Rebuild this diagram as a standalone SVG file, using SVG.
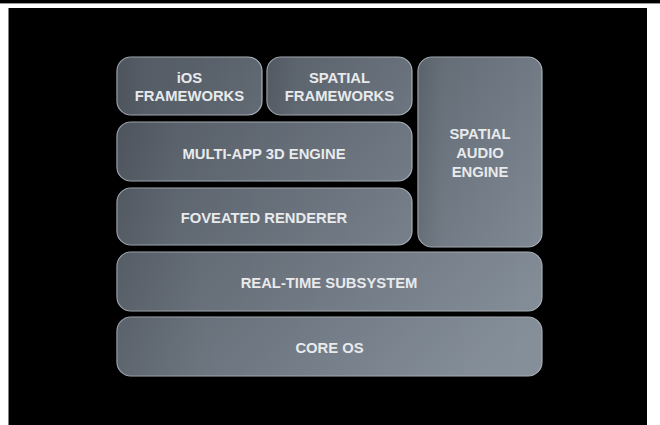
<svg xmlns="http://www.w3.org/2000/svg" width="660" height="425" viewBox="0 0 660 425">
  <defs>
    <linearGradient id="base" gradientUnits="userSpaceOnUse" x1="200" y1="57" x2="480" y2="376">
      <stop offset="0" stop-color="#5a626c"/>
      <stop offset="1" stop-color="#858f9a"/>
    </linearGradient>
    <linearGradient id="shade" x1="0" y1="0" x2="1" y2="0">
      <stop offset="0" stop-color="#000" stop-opacity="0.14"/>
      <stop offset="0.2" stop-color="#000" stop-opacity="0.05"/>
      <stop offset="1" stop-color="#000" stop-opacity="0"/>
    </linearGradient>
    <style>
      .box { fill: url(#base); stroke: #a6aeb6; stroke-width: 1.2; }
      .sh { fill: url(#shade); stroke: none; }
      .lbl { font-family: "Liberation Sans", Arial, sans-serif; font-weight: bold; font-size: 14.8px; fill: #e8eaec; text-anchor: middle; }
    </style>
  </defs>
  <rect x="0" y="0" width="660" height="425" fill="#ffffff"/>
  <rect x="0" y="0" width="660" height="3.4" fill="#000000"/>
  <rect x="8.5" y="8" width="638.5" height="417" fill="#000000"/>

  <g id="ios-frameworks">
    <rect class="box" x="117" y="57" width="145" height="58" rx="14"/>
    <rect class="sh" x="117" y="57" width="145" height="58" rx="14"/>
    <text class="lbl" x="189.5" y="82.5">iOS</text>
    <text class="lbl" x="189.5" y="101">FRAMEWORKS</text>
  </g>
  <g id="spatial-frameworks">
    <rect class="box" x="267" y="57" width="145" height="58" rx="14"/>
    <rect class="sh" x="267" y="57" width="145" height="58" rx="14"/>
    <text class="lbl" x="339.5" y="82.5">SPATIAL</text>
    <text class="lbl" x="339.5" y="101">FRAMEWORKS</text>
  </g>
  <g id="spatial-audio-engine">
    <rect class="box" x="418" y="57" width="124" height="190" rx="14"/>
    <rect class="sh" x="418" y="57" width="124" height="190" rx="14"/>
    <text class="lbl" x="480" y="138.5">SPATIAL</text>
    <text class="lbl" x="480" y="158">AUDIO</text>
    <text class="lbl" x="480" y="177">ENGINE</text>
  </g>
  <g id="multi-app-3d-engine">
    <rect class="box" x="117" y="122" width="295" height="59" rx="14"/>
    <rect class="sh" x="117" y="122" width="295" height="59" rx="14"/>
    <text class="lbl" x="264" y="158.5">MULTI-APP 3D ENGINE</text>
  </g>
  <g id="foveated-renderer">
    <rect class="box" x="117" y="188" width="295" height="57" rx="14"/>
    <rect class="sh" x="117" y="188" width="295" height="57" rx="14"/>
    <text class="lbl" x="264" y="222.5">FOVEATED RENDERER</text>
  </g>
  <g id="real-time-subsystem">
    <rect class="box" x="117" y="252" width="425" height="59" rx="14"/>
    <rect class="sh" x="117" y="252" width="425" height="59" rx="14"/>
    <text class="lbl" x="329" y="288">REAL-TIME SUBSYSTEM</text>
  </g>
  <g id="core-os">
    <rect class="box" x="117" y="317" width="425" height="59" rx="14"/>
    <rect class="sh" x="117" y="317" width="425" height="59" rx="14"/>
    <text class="lbl" x="329.5" y="352.5">CORE OS</text>
  </g>
  <g id="connectors"></g>
</svg>
